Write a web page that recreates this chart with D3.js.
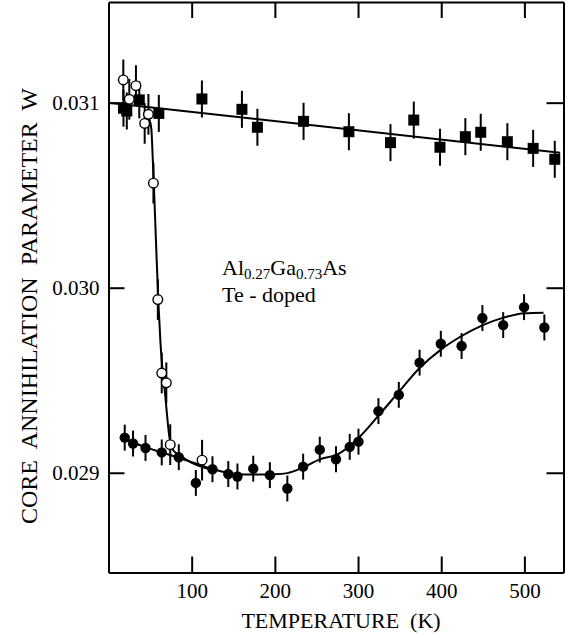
<html><head>
    <script src="https://d3js.org/d3.v7.min.js"></script>
    <style>
      body { margin: 0; background: #fff; }
      text { font-family: "Liberation Serif", "Times New Roman", serif; fill: #000; }
      .axis path, .axis line { stroke: #000; stroke-width: 2px; }
      .errbar { stroke: #000; stroke-width: 2px; }
      .fit { fill: none; stroke: #000; stroke-width: 2px; }
    </style>
  </head>
  <body>
    <script>
        // filled squares
        const sqT = [18, 22, 37, 60.5, 112.3, 160.4, 179, 234.5, 289, 339, 367, 398.5, 429, 447.5, 479.5, 510.5, 536.5]
        const sqW = [0.030970, 0.030955, 0.031015, 0.030942, 0.031020, 0.030964, 0.030867, 0.030899, 0.030843,
                     0.030784, 0.030906, 0.030759, 0.030816, 0.030840, 0.030789, 0.030753, 0.030694]
        // open circles
        const openT = [17.8, 25, 33, 43.5, 48, 54, 59.3, 64, 69.5, 74.2, 112.5]
        const openW = [0.031123, 0.031018, 0.031092, 0.030888, 0.030937, 0.030565, 0.029936, 0.029539, 0.029486, 0.029152, 0.029068]
        // filled circles
        const dotT = [19.5, 29.5, 44.5, 64, 84.5, 105, 125, 144, 155, 174, 194, 215, 234, 254, 273.5, 290, 300.5,
                      324.5, 349, 374, 399.5, 424.5, 449.5, 474.5, 499.6, 524]
        const dotW = [0.029190, 0.029158, 0.029134, 0.029110, 0.029084, 0.028945, 0.029019, 0.028993, 0.028980,
                      0.029022, 0.028987, 0.028915, 0.029033, 0.029125, 0.029073, 0.029140, 0.029168, 0.029333,
                      0.029421, 0.029595, 0.029697, 0.029685, 0.029836, 0.029798, 0.029895, 0.029785]
        // error bar half lengths
        const sqErr = 0.0001, openErr = 0.00011, dotErr = 0.00007

        // fitted curves
        const sqFitT = [0, 543]
        const sqFitW = [0.03100, 0.030729]
        const openFitT = [45, 49, 51.5, 53, 55, 57.5, 60, 62.5, 65, 67.5, 70, 73, 78, 86, 98, 114, 128]
        const openFitW = [0.03093, 0.03091, 0.03086, 0.03072, 0.03050, 0.03020, 0.02992, 0.02970, 0.02955,
                          0.02945, 0.02933, 0.02920, 0.02912, 0.029094, 0.029059, 0.029029, 0.02901]
        const dotFitT = [19, 40, 64, 85, 105, 125, 150, 175, 200, 215, 234, 254, 276, 302, 325, 349, 374, 400,
                         423, 450, 474, 500, 523]
        const dotFitW = [0.029185, 0.029145, 0.029110, 0.02908, 0.02905, 0.02902, 0.028995, 0.028990, 0.028992,
                         0.028998, 0.029029, 0.029072, 0.029101, 0.029195, 0.029311, 0.029437, 0.029566, 0.029667,
                         0.029735, 0.029798, 0.029837, 0.029862, 0.029865]

        const xTicks = [100, 200, 300, 400, 500]
        const yTicks = [0.029, 0.030, 0.031]

        const svg = d3.select("body").append("svg")
                      .attr("width", 569)
                      .attr("height", 638)

        const mLeft = 108.5, mRight = 563.5, mTop = 2, mBottom = 572.5

        const x = d3.scaleLinear().domain([0, 547]).range([mLeft, mRight])
        const y = d3.scaleLinear().domain([0.028461, 0.031544]).range([mBottom, mTop])

        //Axes (ticks pointing inward)
        svg.append("g").attr("class", "axis")
           .attr("transform", "translate(0," + mBottom + ")")
           .call(d3.axisBottom(x).tickValues(xTicks).tickSize(-16).tickSizeOuter(0).tickPadding(11).tickFormat(d3.format("d")))
        svg.append("g").attr("class", "axis")
           .attr("transform", "translate(0," + mTop + ")")
           .call(d3.axisTop(x).tickValues(xTicks).tickSize(-16).tickSizeOuter(0).tickFormat(""))
        svg.append("g").attr("class", "axis")
           .attr("transform", "translate(" + mLeft + ",0)")
           .call(d3.axisLeft(y).tickValues(yTicks).tickSize(-16).tickSizeOuter(0).tickPadding(9).tickFormat(d3.format(".3f")))
        svg.append("g").attr("class", "axis")
           .attr("transform", "translate(" + mRight + ",0)")
           .call(d3.axisRight(y).tickValues(yTicks).tickSize(-17).tickSizeOuter(0).tickFormat(""))

        svg.selectAll(".axis text").style("font-size", "21px").style("font-family", "Liberation Serif")

        //Axis titles
        svg.append("text")
           .attr("x", 341).attr("y", 628)
           .attr("text-anchor", "middle")
           .style("font-size", "22px")
           .style("white-space", "pre")
           .text("TEMPERATURE  (K)")

        svg.append("text")
           .attr("transform", "translate(37,306) rotate(-90)")
           .attr("text-anchor", "middle")
           .style("font-size", "24px")
           .style("white-space", "pre")
           .text("CORE  ANNIHILATION  PARAMETER  W")

        //Fit lines
        const line = d3.line().x(d => x(d[0])).y(d => y(d[1]))
        const mono = d3.line().x(d => x(d[0])).y(d => y(d[1])).curve(d3.curveMonotoneX)

        svg.append("path").attr("class", "fit").attr("d", line(d3.zip(sqFitT, sqFitW)))
        svg.append("path").attr("class", "fit").attr("d", mono(d3.zip(dotFitT, dotFitW)))
        svg.append("path").attr("class", "fit").attr("d", mono(d3.zip(openFitT, openFitW)))

        const squares = d3.zip(sqT, sqW)
        const opens = d3.zip(openT, openW)
        const dots = d3.zip(dotT, dotW)

        //Error bars
        const addErr = (data, err) => {
            svg.append("g").selectAll("line").data(data)
               .join("line")
               .attr("class", "errbar")
               .attr("x1", d => x(d[0])).attr("x2", d => x(d[0]))
               .attr("y1", d => y(d[1] - err)).attr("y2", d => y(d[1] + err))
        }
        addErr(squares, sqErr)
        addErr(dots, dotErr)
        addErr(opens, openErr)

        //Markers
        svg.append("g").selectAll("rect").data(squares)
           .join("rect")
           .attr("x", d => x(d[0]) - 5.5)
           .attr("y", d => y(d[1]) - 5.5)
           .attr("width", 11).attr("height", 11)
           .style("fill", "#000")

        svg.append("g").selectAll("circle").data(dots)
           .join("circle")
           .attr("cx", d => x(d[0])).attr("cy", d => y(d[1]))
           .attr("r", 5.2)
           .style("fill", "#000")

        svg.append("g").selectAll("circle").data(opens)
           .join("circle")
           .attr("cx", d => x(d[0])).attr("cy", d => y(d[1]))
           .attr("r", 4.8)
           .style("fill", "#fff")
           .style("stroke", "#000")
           .style("stroke-width", 1.4)

        //Label
        const lab = svg.append("text")
                       .attr("x", 222).attr("y", 275)
                       .style("font-size", "22px")
        lab.append("tspan").text("Al")
        lab.append("tspan").attr("dy", 4).style("font-size", "15px").text("0.27")
        lab.append("tspan").attr("dy", -4).text("Ga")
        lab.append("tspan").attr("dy", 4).style("font-size", "15px").text("0.73")
        lab.append("tspan").attr("dy", -4).text("As")

        svg.append("text")
           .attr("x", 222).attr("y", 302)
           .style("font-size", "22px")
           .style("white-space", "pre")
           .text("Te - doped")
    </script>
  </body></html>
